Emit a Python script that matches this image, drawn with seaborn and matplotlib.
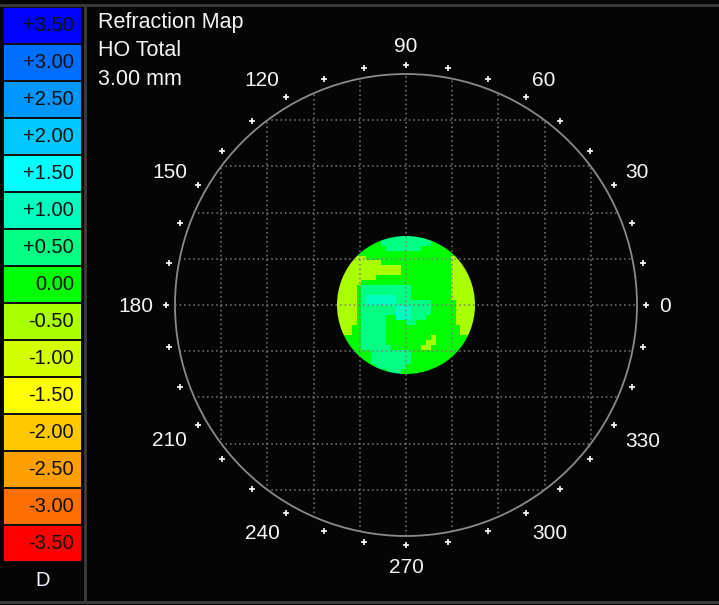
import numpy as np
import seaborn as sns
from matplotlib import pyplot as plt
from matplotlib.colors import ListedColormap
from matplotlib.patches import Circle
from matplotlib.lines import Line2D

# colour scale (dioptres), top to bottom as in the legend
levels = [3.5, 3.0, 2.5, 2.0, 1.5, 1.0, 0.5, 0.0, -0.5, -1.0, -1.5, -2.0, -2.5, -3.0, -3.5]
level_labels = ['+3.50', '+3.00', '+2.50', '+2.00', '+1.50', '+1.00', '+0.50', '0.00',
                '-0.50', '-1.00', '-1.50', '-2.00', '-2.50', '-3.00', '-3.50']
level_colors = ['#0000FF', '#006EFF', '#0096FF', '#00C8FF', '#00FFFF', '#00FFBE', '#00FF82',
                '#00FF00', '#AAFF00', '#D4FF00', '#FFFF00', '#FFC800', '#FFA000', '#FF6E00', '#FF0000']
unit_label = 'D'
title_lines = ['Refraction Map', 'HO Total', '3.00 mm']
axis_angles = [0, 30, 60, 90, 120, 150, 180, 210, 240, 270, 300, 330]
pupil_diameter = 3.0   # mm
zone_radius = 5.0      # mm, outer ring

# refraction map (28 x 28 cells over the pupil)
code_values = {'G': 0.0, 'Y': -0.5, 'T': 0.5, 'C': 1.0}
map_rows = [
    "GGGGGGGGGTTTTTTTTTTGGGGGGGGG",
    "GGGGGGGGGTTTTTTTTTTGGGGGGGGG",
    "GGGGGGGGGGTTTTTTTGGGGGGGGGGG",
    "GGGGGGGGGGGGGGGGGGGGGGGGGGGG",
    "YYYYYYGGGGGGGGGGGGGGGGGYYYYY",
    "YYYYYYYYYGGGGGGGGGGGGGGYYYYY",
    "YYYYYYYYYYYYYGGGGGGGGGGYYYYY",
    "YYYYYYYYYYYYYGGGGGGGGGGYYYYY",
    "YYYYYYYYGGGGGGGGGGGGGGGYYYYY",
    "YYYYYGGGGGGGGGGGGGGGGGGYYYYY",
    "YYYYGTTTTTTTTTTGGGGGGGGYYYYY",
    "YYYYGTTTTTTTTTTGGGGGGGGYYYYY",
    "YYYYGTCCCCCCTTTGGGGGGGGYYYYY",
    "YYYYGTCCCCCCTTTTTTTGGGGGYYYY",
    "YYYYGTTTTTTTCCCTTTTGGGGGYYYY",
    "YYYYGTTTTTTTCCCTTTTGGGGGYYYY",
    "YYYYGTTTTTGGCCCTTTGGGGGGYYYY",
    "YYYYGTTTTTGGGGTTGGGGGGGGYYYY",
    "YYYGGTTTTTGGGGGGGGGGGGGGGYYY",
    "YYYGGTTTTTGGGGGGGGGGGGGGGYYY",
    "GGGGGTTTTTGGGGGGGGGYGGGGGGGG",
    "GGGGGTTTTTGGGGGGGGYYGGGGGGGG",
    "GGGGGTTTTTTGGGGGGYYGGGGGGGGG",
    "GGGGGGGTTTTTTTTGGGGGGGGGGGGG",
    "GGGGGGGTTTTTTTTGGGGGGGGGGGGG",
    "GGGGGGGTTTTTTTTGGGGGGGGGGGGG",
    "GGGGGGGGTTTTTTGGGGGGGGGGGGGG",
    "GGGGGGGGGGTTTGGGGGGGGGGGGGGG",
]

plt.rcParams['font.family'] = ['Liberation Sans', 'DejaVu Sans']
W, H = 719, 605
bg = '#050505'
cmap = ListedColormap(level_colors[::-1])
vmin, vmax = -3.75, 3.75


def rect(x0, y0, x1, y1):
    # pixel box -> figure fraction
    return [x0 / W, 1 - y1 / H, (x1 - x0) / W, (y1 - y0) / H]


fig = plt.figure(figsize=(W / 100, H / 100), dpi=100, facecolor=bg)

# legend column
ax_leg = fig.add_axes(rect(3, 7, 82, 562))
sns.heatmap(np.array(levels).reshape(-1, 1), ax=ax_leg, cmap=cmap, vmin=vmin, vmax=vmax,
            annot=np.array(level_labels).reshape(-1, 1), fmt='', cbar=False,
            linewidths=1.2, linecolor='#101010', xticklabels=False, yticklabels=False,
            annot_kws=dict(color='#111111', fontsize=14.5, ha='right'))
for t in ax_leg.texts:
    t.set_x(0.9)
ax_leg.axis('off')
fig.text(43 / W, 1 - 580 / H, unit_label, color='#eef3ff', fontsize=14.5, ha='center', va='center')

# title block
for i, line in enumerate(title_lines):
    fig.text(98 / W, 1 - (28 + 28.5 * i) / H, line, color='#f4f4f4', fontsize=15.5,
             ha='left', va='baseline')

# geometry of the polar panel
cx, cy = 406, 305
scale = 46.2  # px per mm
half = 300
rmap = pupil_diameter / 2 * scale

# refraction map (underneath the grid)
ax_map = fig.add_axes(rect(cx - rmap, cy - rmap, cx + rmap, cy + rmap), zorder=1)
grid = np.array([[code_values[ch] for ch in row] for row in map_rows])
sns.heatmap(grid, ax=ax_map, cmap=cmap, vmin=vmin, vmax=vmax, cbar=False,
            xticklabels=False, yticklabels=False)
n = grid.shape[0]
clip = Circle((n / 2, n / 2), n / 2, transform=ax_map.transData)
ax_map.collections[0].set_clip_path(clip)
ax_map.axis('off')

# rings, grid, angle marks
ax = fig.add_axes(rect(cx - half, cy - half, cx + half, cy + half), zorder=3)
ax.set_facecolor('none')
outline = Circle((0, 0), zone_radius, fill=False, ec='#8a8a8a', lw=1.3)
ax.add_patch(outline)
for v in range(-4, 5):
    for xs, ys in (([v, v], [-zone_radius, zone_radius]), ([-zone_radius, zone_radius], [v, v])):
        ln, = ax.plot(xs, ys, color='#7c7c7c', lw=1.1, ls=(0, (1, 2)))
        ln.set_clip_path(outline)

mark_angles = np.deg2rad(np.arange(0, 360, 10))
ax.plot(5.2 * np.cos(mark_angles), 5.2 * np.sin(mark_angles), ls='none', marker='+',
        color='white', ms=5, mew=1.2)

# angle labels: the nearest corner of each label sits on a ring just outside the marks
ring = 253 / scale
cap = 15 / scale
for a in axis_angles:
    c, s = np.cos(np.deg2rad(a)), np.sin(np.deg2rad(a))
    ha = 'left' if c > 0.1 else ('right' if c < -0.1 else 'center')
    y = ring * s
    if s < -0.1:
        y -= cap
    elif s <= 0.1:
        y -= cap / 2
    ax.text(ring * c, y, str(a), color='#f4f4f4', fontsize=15, ha=ha, va='baseline',
            clip_on=False)

ax.set_xlim(-half / scale, half / scale)
ax.set_ylim(-half / scale, half / scale)
ax.axis('off')

# panel frame
frame = dict(color='#3c3c3c', lw=2, transform=fig.transFigure)
fig.add_artist(Line2D([0, 1], [1 - 5 / H] * 2, **frame))
fig.add_artist(Line2D([0, 1], [1 - 602 / H] * 2, **frame))
fig.add_artist(Line2D([85 / W] * 2, [1 - 5 / H, 1 - 602 / H], **frame))

plt.savefig('out.png', dpi=100, facecolor=bg)
plt.close()
